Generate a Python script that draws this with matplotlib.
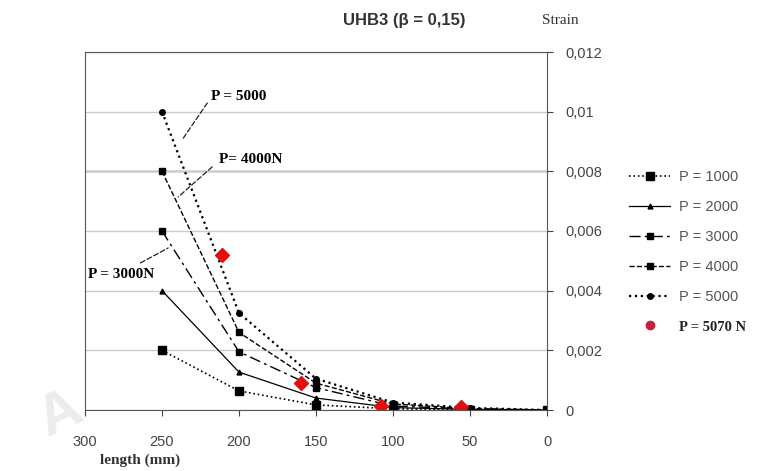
import matplotlib.pyplot as plt
from matplotlib.lines import Line2D
from matplotlib.ticker import FuncFormatter

# longueurs (mm) et déformations
length = [250, 200, 150, 100, 50, 0]
p1000 = [0.002, 0.00064, 0.00017, 0.00004, 0.00001, 0]
p2000 = [0.004, 0.00127, 0.0004, 0.00008, 0.00002, 0]
p3000 = [0.006, 0.00195, 0.00075, 0.00013, 0.00004, 0]
p4000 = [0.008, 0.0026, 0.0009, 0.0002, 0.00005, 0]
p5000 = [0.01, 0.00325, 0.00105, 0.00025, 0.00007, 0]

# points P = 5070 N
length_5070 = [211, 160, 108, 56]
strain_5070 = [0.0052, 0.0009, 0.00015, 0.0001]

serif = 'Liberation Serif'
sans = 'Liberation Sans'

fig = plt.figure(figsize=(7.57, 4.71), dpi=100)
ax = fig.add_axes([85/757, 1-410/471, 462/757, 358/471])

ax.plot(length, p1000, ':', color='black', lw=1.2, marker='s', ms=6, label='P = 1000')
ax.plot(length, p2000, '-', color='black', lw=0.9, marker='^', ms=3.5, label='P = 2000')
ax.plot(length, p3000, color='black', lw=1.0, ls=(0, (8, 3, 2, 3)), marker='s', ms=5, label='P = 3000')
ax.plot(length, p4000, '--', color='black', lw=1.0, marker='s', ms=5, label='P = 4000')
ax.plot(length, p5000, ':', color='black', lw=1.6, marker='o', ms=4, label='P = 5000')
ax.plot(length_5070, strain_5070, 'D', color='#e01010', ms=7, ls='none')

ax.set_xlim(300, 0)
ax.set_ylim(0, 0.012)
ax.set_xticks([300, 250, 200, 150, 100, 50, 0])
ax.set_yticks([0, 0.002, 0.004, 0.006, 0.008, 0.01, 0.012])
ax.yaxis.tick_right()
ax.yaxis.set_major_formatter(FuncFormatter(lambda v, p: '0' if v == 0 else ('%g' % v).replace('.', ',')))
ax.tick_params(axis='both', labelsize=10.5, colors='#444444', length=4)
ax.tick_params(axis='x', pad=14)
ax.tick_params(axis='y', pad=9)
for lab in ax.get_xticklabels() + ax.get_yticklabels():
    lab.set_family(sans)

ax.grid(axis='y', color='#cccccc', lw=1)
ax.axhline(0.008, color='#555555', lw=1, zorder=0)
for s in ax.spines.values():
    s.set_color('#555555')

# textes
fig.text(404/757, 1-20/471, 'UHB3 (β = 0,15)', ha='center', va='center',
         fontsize=12, fontweight='bold', family=sans, color='#333333')
fig.text(542/757, 1-20/471, 'Strain', ha='left', va='center', fontsize=11, family=serif, color='#333333')
fig.text(100/757, 1-460/471, 'length (mm)', ha='left', va='center', fontsize=11,
         fontweight='bold', family=serif, color='#333333')
fig.text(30/757, 1-415/471, 'A', fontsize=42, rotation=25, color='#ececec', family=sans,
         fontweight='bold', ha='left', va='center', zorder=0)

# annotations avec traits pointillés
dash = dict(arrowstyle='-', linestyle=(0, (4, 2)), lw=0.9, color='#222222', shrinkA=0, shrinkB=0)
ax.annotate('', xy=(237, 0.00905), xytext=(220.6, 0.01029), arrowprops=dash)
ax.text(218.5, 0.0105, 'P = 5000', fontsize=11, fontweight='bold', family=serif, va='center')
ax.annotate('', xy=(239.5, 0.00714), xytext=(217.4, 0.00815), arrowprops=dash)
ax.text(213, 0.0084, 'P= 4000N', fontsize=11, fontweight='bold', family=serif, va='center')
ax.annotate('', xy=(246, 0.00543), xytext=(264, 0.00493), arrowprops=dash)
ax.text(298, 0.00453, 'P = 3000N', fontsize=11, fontweight='bold', family=serif, va='center')

handles, labels = ax.get_legend_handles_labels()
handles.append(Line2D([], [], ls='none', marker='o', color='#c8203c', ms=6))
labels.append('P = 5070 N')
leg = fig.legend(handles, labels, loc='upper left', bbox_to_anchor=(616/757, 1-157/471),
                 frameon=False, fontsize=10.5, labelspacing=1.1, handlelength=2.8,
                 handletextpad=0.6, numpoints=1)
for t in leg.get_texts():
    t.set_family(sans)
    t.set_color('#555555')
last = leg.get_texts()[-1]
last.set_family(serif)
last.set_fontweight('bold')
last.set_color('#222222')

fig.savefig('out.png', dpi=100)
